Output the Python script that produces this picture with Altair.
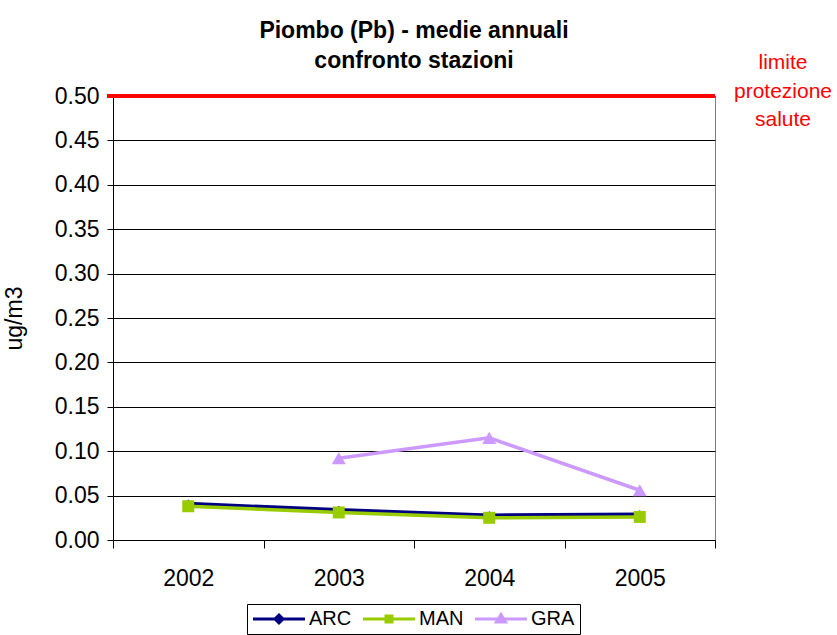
import altair as alt
import pandas as pd

# Annual mean lead concentration (ug/m3) per monitoring station
anni = ["2002", "2003", "2004", "2005"]
stazioni = ["ARC", "MAN", "GRA"]
arc = [0.041, 0.034, 0.028, 0.029]
man = [0.038, 0.031, 0.025, 0.026]
gra = [None, 0.092, 0.115, 0.056]
limite = 0.50
y_ticks = [0.0, 0.05, 0.10, 0.15, 0.20, 0.25, 0.30, 0.35, 0.40, 0.45, 0.50]

colori = ["#000080", "#99CC00", "#CC99FF"]
marker = ["diamond", "square", "triangle-up"]
marker_size = [64, 144, 196]

# legend glyphs: line segment with the marker at its middle
legend_paths = [
    "M-1.8,0H8.6M3.4,-0.8L4.2,0L3.4,0.8L2.6,0Z",
    "M-1.8,0H8.6M2.8,-0.6H4.0V0.6H2.8ZM3.1,-0.3H3.7V0.3H3.1Z",
    "M-1.8,0H8.6M3.4,-0.9L4.3,0.6H2.5ZM3.4,-0.3L3.8,0.3H3.0Z",
]

rows = []
for nome, serie in zip(stazioni, [arc, man, gra]):
    for anno, v in zip(anni, serie):
        if v is not None:
            rows.append({"anno": anno, "stazione": nome, "valore": v})
df = pd.DataFrame(rows)

FONT = "Liberation Sans"
W, H = 602, 444

x_enc = alt.X(
    "anno:O",
    title=None,
    sort=anni,
    scale=alt.Scale(type="band", domain=anni, paddingInner=0, paddingOuter=0),
    axis=alt.Axis(
        labelAngle=0, tickBand="extent", grid=False, tickSize=8,
        labelPadding=19, labelFontSize=23, labelFont=FONT, labelColor="#000",
        domainColor="#000", tickColor="#000",
    ),
)
y_enc = alt.Y(
    "valore:Q",
    title="ug/m3",
    scale=alt.Scale(domain=[0, 0.5], nice=False, zero=True),
    axis=alt.Axis(
        values=y_ticks, format=".2f", tickSize=6, labelPadding=8,
        labelFontSize=23, labelFont=FONT, labelColor="#000",
        titleFont=FONT, titleFontSize=23, titleFontWeight="normal",
        titleColor="#000", titlePadding=28,
        grid=True, gridColor="#000", gridWidth=1,
        domainColor="#000", tickColor="#000",
    ),
)
color_scale = alt.Scale(domain=stazioni, range=colori)
legend_cfg = alt.Legend(
    orient="none", legendX=134, legendY=508, direction="horizontal",
    columns=3, title=None, strokeColor="#000", padding=5,
    labelFont=FONT, labelFontSize=20, labelColor="#000",
    symbolSize=100, symbolStrokeWidth=3, labelOffset=37,
    columnPadding=5,
)
color_enc = alt.Color("stazione:N", scale=color_scale, title=None, legend=legend_cfg)

base = alt.Chart(df).encode(x=x_enc, y=y_enc)

layers = []
for nome, shp, sz in zip(stazioni, marker, marker_size):
    sub = base.transform_filter(alt.datum.stazione == nome)
    layers.append(sub.mark_line(strokeWidth=3.5).encode(color=color_enc))
    layers.append(
        sub.mark_point(filled=True, shape=shp, size=sz, opacity=1).encode(color=color_enc)
    )

# legend-only layer (no visible data marks)
legenda = (
    base.transform_filter("false")
    .mark_point(filled=False, strokeWidth=3, size=100, opacity=1)
    .encode(
        color=color_enc,
        shape=alt.Shape(
            "stazione:N", title=None,
            scale=alt.Scale(domain=stazioni, range=legend_paths),
            legend=legend_cfg,
        ),
    )
)

lim_df = pd.DataFrame({"limite": [limite], "testo": ["limite\nprotezione\nsalute"]})
limite_rule = alt.Chart(lim_df).mark_rule(color="#FF0000", strokeWidth=4).encode(
    y=alt.Y("limite:Q", scale=alt.Scale(domain=[0, 0.5])),
    x=alt.value(-6),
    x2=alt.value(W),
)
limite_text = alt.Chart(lim_df).mark_text(
    color="#FF0000", font=FONT, fontSize=21, lineBreak="\n",
    lineHeight=28.5, align="center", baseline="middle", dy=-33,
).encode(
    y=alt.Y("limite:Q", scale=alt.Scale(domain=[0, 0.5])),
    x=alt.value(670),
    text="testo:N",
)

chart = (
    alt.layer(*layers, legenda, limite_rule, limite_text)
    .properties(
        width=W,
        height=H,
        title=alt.TitleParams(
            ["Piombo (Pb) - medie annuali", "confronto stazioni"],
            font=FONT, fontSize=23, fontWeight="bold", color="#000",
            anchor="middle", lineHeight=30, offset=9, dy=30,
        ),
        autosize=alt.AutoSizeParams(type="none"),
        padding={"left": 113, "top": 96, "right": 122, "bottom": 95},
        background="#FFFFFF",
    )
    .configure_view(stroke="#808080", strokeWidth=1)
)

chart.save("out.html", embed_options={"renderer": "svg", "actions": False})
